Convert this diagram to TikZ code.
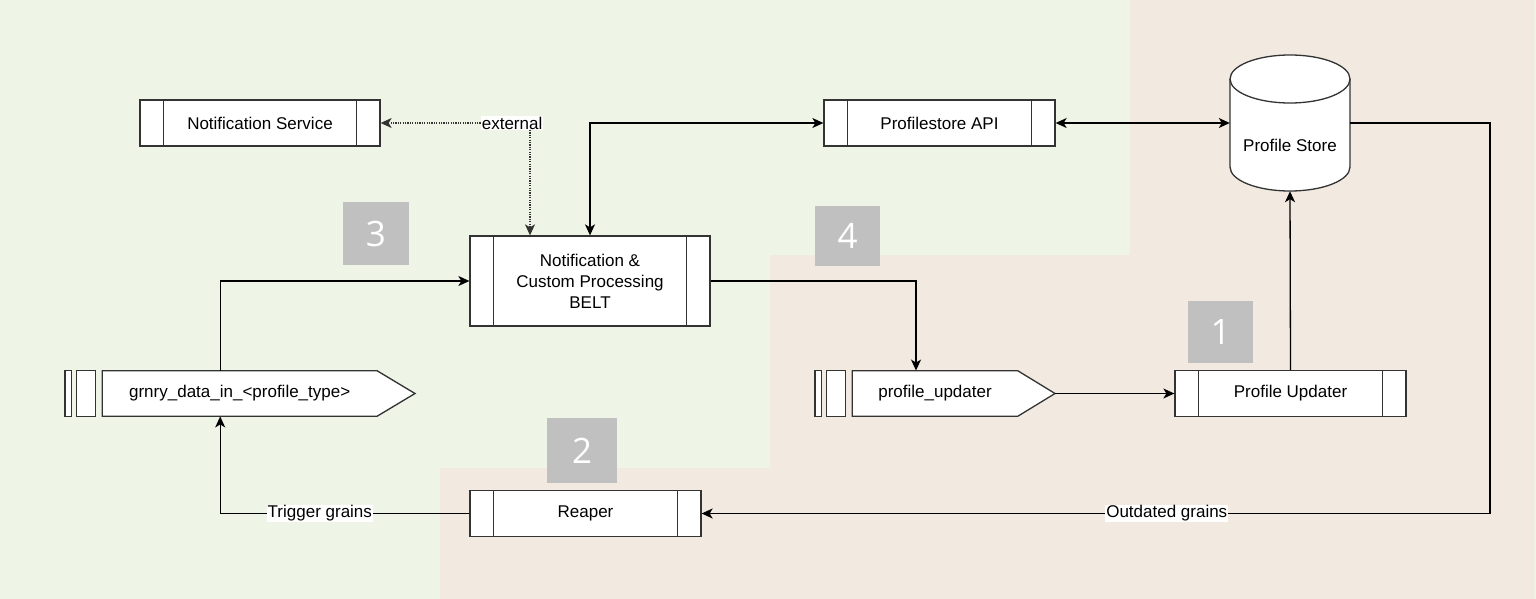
\documentclass[tikz,border=0pt]{standalone}
\usepackage{fontspec}
\setmainfont{Liberation Sans}
\newfontfamily\badgefont{Open Sans}
\usetikzlibrary{arrows.meta,calc}
\definecolor{bggreen}{RGB}{238,244,230}
\definecolor{bgbeige}{RGB}{242,233,224}
\definecolor{boxline}{RGB}{51,51,51}
\definecolor{badgegray}{RGB}{192,192,192}
\tikzset{
  proc/.style={rectangle, draw=boxline, fill=white, line width=1.3pt,
    minimum width=#1, minimum height=45.5pt, inner sep=0pt,
    font=\fontsize{17}{21}\selectfont, align=center,
    path picture={
      \draw[boxline, line width=1.3pt]
        ([xshift=23.5pt]path picture bounding box.south west) --
        ([xshift=23.5pt]path picture bounding box.north west);
      \draw[boxline, line width=1.3pt]
        ([xshift=-23.5pt]path picture bounding box.south east) --
        ([xshift=-23.5pt]path picture bounding box.north east);
    }},
  qtext/.style={rectangle, minimum width=#1, minimum height=45.5pt, inner sep=0pt,
    font=\fontsize{17}{21}\selectfont},
  qshape/.style={draw=boxline, fill=white, line width=1.3pt},
  badge/.style={rectangle, fill=badgegray, text=white, inner sep=0pt,
    font=\badgefont\fontsize{35}{35}\selectfont},
  conn/.style={draw=black, line width=1.3pt},
  arr/.style={-{Stealth[length=11pt,width=10pt,inset=3pt]}},
  biarr/.style={{Stealth[length=11pt,width=10pt,inset=3pt]}-{Stealth[length=11pt,width=10pt,inset=3pt]}},
  dotline/.style={draw=black!80, line width=1.2pt, dash pattern=on 1.2pt off 1.2pt},
  lbl/.style={fill=white, inner sep=1pt, font=\fontsize{17}{18}\selectfont}
}
\begin{document}
\begin{tikzpicture}[x=1pt, y=-1pt]
\useasboundingbox (0,0) rectangle (1536,599);
% backgrounds
\fill[bggreen] (0,0) rectangle (1536,599);
\fill[bgbeige] (1130,0) -- (1534,0) -- (1534,599) -- (440,599) -- (440,468)
  -- (770,468) -- (770,255) -- (1130,255) -- cycle;

% process boxes
\node[proc=240pt, minimum height=46pt] (ns) at (260,123) {\raisebox{-1.5pt}{Notification Service}};
\node[proc=231pt, minimum height=46pt] (api) at (939.5,123) {\raisebox{-1.5pt}{Profilestore API}};
\node[proc=240pt, minimum height=90pt] (belt) at (590,281) {Notification \&\\Custom Processing\\BELT};
\node[proc=231pt] (upd) at (1290.5,393.5) {\raisebox{-1.5pt}{Profile Updater}};
\node[proc=231pt] (reaper) at (585.5,513.5) {\raisebox{-1.5pt}{Reaper}};

% cylinder Profile Store
\draw[qshape] (1230,79) -- (1230,167) arc[start angle=180, end angle=0, x radius=60, y radius=24]
  -- (1350,79) arc[start angle=0, end angle=-180, x radius=60, y radius=24] -- cycle;
\draw[boxline, line width=1.3pt] (1230,79) arc[start angle=180, end angle=0, x radius=60, y radius=24];
\node[rectangle, minimum width=120pt, minimum height=136pt, inner sep=0pt] (ps) at (1290,123) {};
\node[font=\fontsize{17}{21}\selectfont] (pslabel) at (1290,145) {Profile Store};

% queue shapes
\draw[qshape] (65,370.7) rectangle (71.7,416.3);
\draw[qshape] (76.7,370.7) rectangle (95.3,416.3);
\draw[qshape] (102.3,370.7) -- (377,370.7) -- (415,393.5) -- (377,416.3) -- (102.3,416.3) -- cycle;
\node[qtext=274.7pt] (grnry) at (239.7,393.5) {\raisebox{-1.5pt}{grnry\_data\_in\_<profile\_type>}};

\draw[qshape] (815,370.7) rectangle (821.7,416.3);
\draw[qshape] (826.7,370.7) rectangle (845.3,416.3);
\draw[qshape] (852.3,370.7) -- (1017.7,370.7) -- (1055,393.5) -- (1017.7,416.3) -- (852.3,416.3) -- cycle;
\node[qtext=165.4pt] (pu) at (935,393.5) {\raisebox{-1.5pt}{profile\_updater}};
\coordinate (putip) at (1055,393.5);

% badges
\node[badge, minimum width=66pt, minimum height=63pt] (b3) at (376,233.5) {3};
\node[badge, minimum width=65pt, minimum height=60pt] (b4) at (847.5,236) {4};
\node[badge, minimum width=70pt, minimum height=65pt] (b2) at (582,450.5) {2};
\node[badge, minimum width=65pt, minimum height=62pt] (b1) at (1220.5,332) {1};

% connectors
\coordinate (extc) at (530,123);
\draw[dotline, biarr] (ns.east) -- node[lbl, pos=0.88] (extlbl) {external} (extc) -- ([xshift=-60pt]belt.north);
\draw[conn, biarr] (api.west) -| (belt.north);
\draw[conn, biarr] (api.east) -- (ps.west);
\draw[conn, arr] (belt.east) -| ([xshift=-19pt]pu.north);
\draw[conn, arr] ([xshift=-19.5pt]grnry.north) |- (belt.west);
\draw[conn, arr] (putip) -- (upd.west);
\draw[conn, arr] (upd.north) -- (ps.south);
\coordinate (psr) at (1490,513.5);
\draw[conn, arr] (ps.east) -| (psr) -- node[lbl, pos=0.41] (outlbl) {Outdated grains} (reaper.east);
\draw[conn, arr] (reaper.west) -| node[lbl, pos=0.3] (trglbl) {Trigger grains} ([xshift=-19.5pt]grnry.south);
\end{tikzpicture}
\end{document}
